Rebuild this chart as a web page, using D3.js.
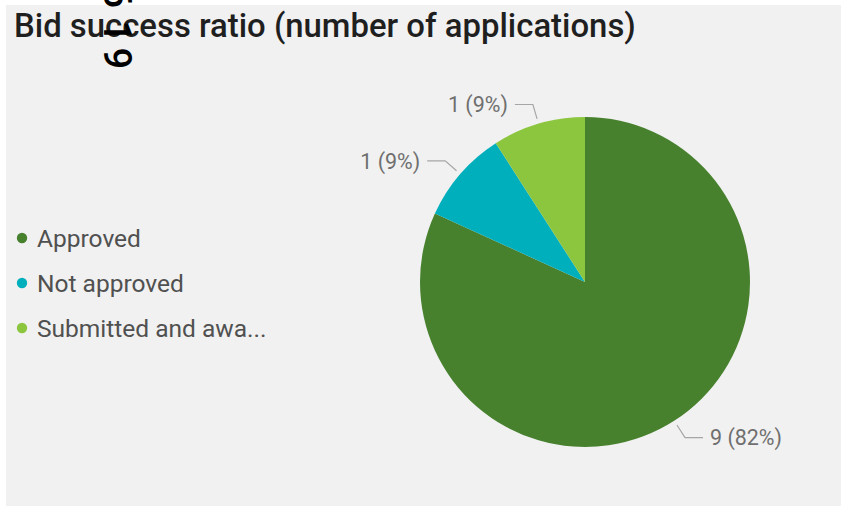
<!DOCTYPE html>
<html>
<head>
<meta charset="utf-8">
<script src="https://cdn.jsdelivr.net/npm/d3@7"></script>
<style>
  html, body { margin: 0; padding: 0; background: #ffffff; }
  svg { display: block; }
</style>
</head>
<body>
<svg id="chart" width="841" height="508"></svg>
<script>
// Bid outcomes, number of applications per status
const categories = ["Approved", "Not approved", "Submitted and awaiting outcome"];
const legendLabels = ["Approved", "Not approved", "Submitted and awa..."];
const counts = [9, 1, 1];
const colors = ["#47812e", "#00afbc", "#8cc63f"];
const title = "Bid success ratio (number of applications)";
const stampDigits = ["6", "1", "9"];

const W = 841, H = 508;
const svg = d3.select("#chart");
const font = "Roboto, 'DejaVu Sans', sans-serif";

// scale a text's font size so that it spans the given width
function fitWidth(sel, base, width) {
  const w = sel.node().getComputedTextLength();
  sel.attr("font-size", base * width / w);
  return base * width / w;
}

// card background
svg.append("rect")
  .attr("x", 6).attr("y", 5)
  .attr("width", W - 6).attr("height", H - 7)
  .attr("fill", "#f1f1f1");

// title
const titleText = svg.append("text")
  .attr("x", 14).attr("y", 37)
  .attr("font-family", font)
  .attr("font-weight", 500)
  .attr("font-size", 28)
  .attr("fill", "#1f1f1f")
  .text(title);
fitWidth(titleText, 28, 622);

// legend
const legendY = d3.scalePoint().domain(categories).range([238, 328]);
const legend = svg.append("g");
const legendTexts = [];
categories.forEach((c, i) => {
  const g = legend.append("g").attr("transform", `translate(22,${legendY(c)})`);
  g.append("circle").attr("r", 5.2).attr("fill", colors[i]);
  legendTexts.push(g.append("text")
    .attr("x", 15).attr("dy", "0.36em")
    .attr("font-family", font)
    .attr("font-size", 21)
    .attr("fill", "#505050")
    .text(legendLabels[i]));
});
const legendSize = fitWidth(legendTexts[1], 21, 147);
legendTexts.forEach(t => t.attr("font-size", legendSize));

// pie
const cx = 585, cy = 282, R = 165;
const pie = d3.pie().sort(null).value(d => d)(counts);
const arc = d3.arc().innerRadius(0).outerRadius(R);
const total = d3.sum(counts);
const pct = d3.format(".0%");

const g = svg.append("g").attr("transform", `translate(${cx},${cy})`);
g.selectAll("path.slice")
  .data(pie)
  .join("path")
  .attr("class", "slice")
  .attr("d", arc)
  .attr("fill", (d, i) => colors[i]);

// leader lines and data labels
const lineStart = d3.arc().innerRadius(R + 5).outerRadius(R + 5);
const lineElbow = d3.arc().innerRadius(R + 20).outerRadius(R + 20);
const labelTexts = [];
pie.forEach((d, i) => {
  const a = (d.startAngle + d.endAngle) / 2;
  const p0 = lineStart.centroid(d);
  const p1 = lineElbow.centroid(d);
  const side = Math.sin(a) >= 0 ? 1 : -1;
  const p2 = [p1[0] + side * 18, p1[1]];
  g.append("polyline")
    .attr("points", [p0, p1, p2].map(p => p.join(",")).join(" "))
    .attr("fill", "none")
    .attr("stroke", "#a6a6a6")
    .attr("stroke-width", 1.2);
  labelTexts.push(g.append("text")
    .attr("x", p2[0] + side * 7)
    .attr("y", p2[1])
    .attr("dy", "0.36em")
    .attr("text-anchor", side > 0 ? "start" : "end")
    .attr("font-family", font)
    .attr("font-size", 17)
    .attr("fill", "#6f6f6f")
    .text(`${counts[i]} (${pct(counts[i] / total)})`));
});
const labelSize = fitWidth(labelTexts[0], 17, 72);
labelTexts.forEach(t => t.attr("font-size", labelSize));

// rotated stamp over the title, digits placed along the rotated baseline
const stampOffsets = [-13.5, 20.5, 47.5];
const stamp = svg.append("text")
  .attr("transform", "translate(104,0) rotate(90)")
  .attr("font-family", font)
  .attr("font-weight", 500)
  .attr("font-size", 38)
  .attr("fill", "#000000");
stamp.selectAll("tspan")
  .data(stampDigits)
  .join("tspan")
  .attr("x", (d, i) => stampOffsets[i])
  .text(d => d);
</script>
</body>
</html>
